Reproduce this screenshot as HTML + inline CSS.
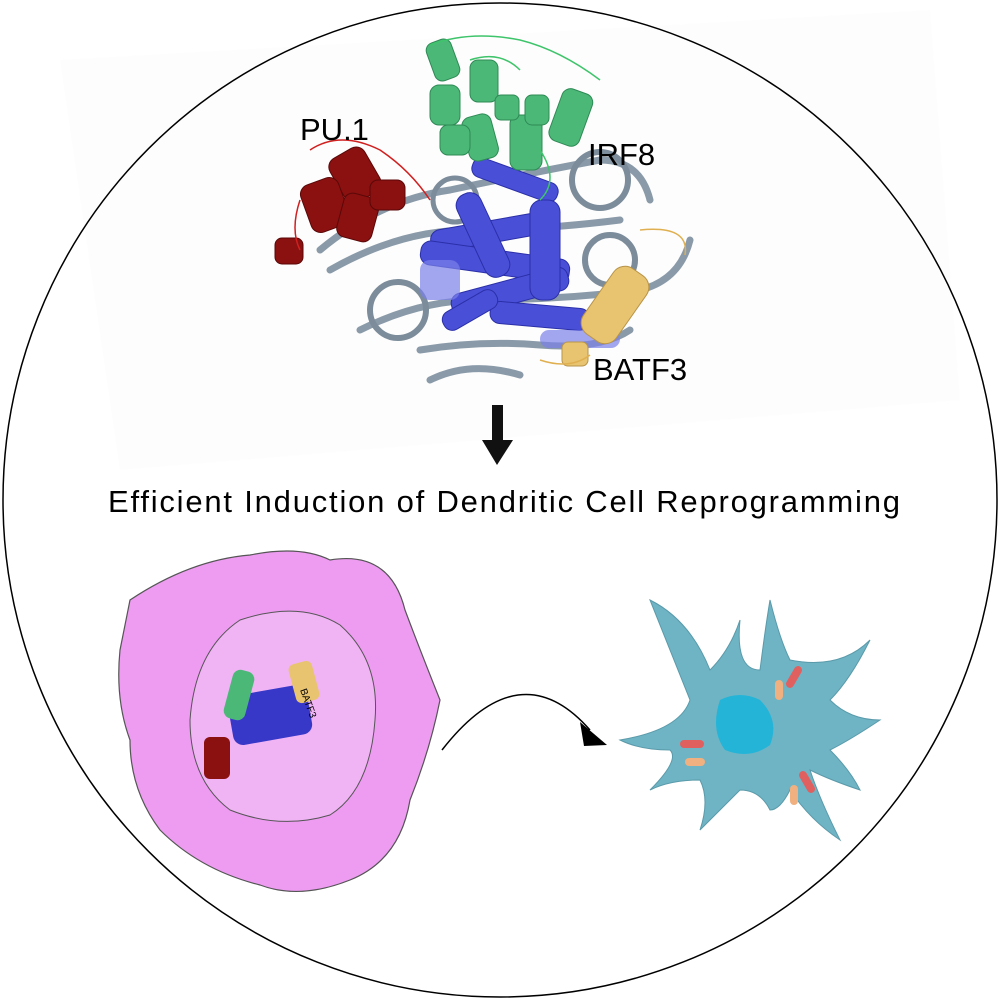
<!DOCTYPE html>
<html><head><style>
html,body{margin:0;padding:0;background:#fff;}
svg{display:block;}
text{font-family:"Liberation Sans",sans-serif;}
</style></head><body>
<svg width="1000" height="1000" viewBox="0 0 1000 1000">
<polygon points="60,60 930,10 960,400 120,470" fill="#fdfdfd"/>
<circle cx="500" cy="500" r="497" fill="none" stroke="#000" stroke-width="1.5"/>
<g fill="none" stroke="#8a9aa8" stroke-width="7" stroke-linecap="round">
<path d="M320,250 Q380,200 450,190 Q520,175 600,160 Q640,160 650,200"/>
<path d="M330,270 Q400,230 470,230 Q540,230 620,220"/>
<path d="M360,330 Q420,300 480,300 Q560,300 640,290 Q680,280 690,240"/>
<path d="M420,350 Q480,340 540,345 Q600,350 630,330"/>
<path d="M430,380 Q470,360 520,375"/>
</g>
<circle cx="398" cy="310" r="28" fill="none" stroke="#7c8c9a" stroke-width="6"/>
<circle cx="600" cy="180" r="28" fill="none" stroke="#7c8c9a" stroke-width="6"/>
<circle cx="610" cy="260" r="25" fill="none" stroke="#7c8c9a" stroke-width="6"/>
<circle cx="455" cy="200" r="22" fill="none" stroke="#7c8c9a" stroke-width="5"/>
<g fill="#4a4fd8" stroke="#2a2fa8" stroke-width="1">
<rect x="430" y="220" width="130" height="22" rx="10" transform="rotate(-10 495 231)"/>
<rect x="420" y="250" width="150" height="24" rx="10" transform="rotate(8 495 262)"/>
<rect x="450" y="280" width="120" height="24" rx="10" transform="rotate(-15 510 292)"/>
<rect x="470" y="170" width="90" height="20" rx="9" transform="rotate(20 515 180)"/>
<rect x="490" y="305" width="100" height="22" rx="10" transform="rotate(5 540 316)"/>
<rect x="440" y="300" width="60" height="20" rx="9" transform="rotate(-30 470 310)"/>
<rect x="530" y="200" width="30" height="100" rx="12"/>
<rect x="470" y="190" width="26" height="90" rx="12" transform="rotate(-25 483 235)"/>
</g>
<g fill="#7a80e8" opacity="0.7">
<rect x="540" y="330" width="80" height="18" rx="9"/>
<rect x="420" y="260" width="40" height="40" rx="10"/>
</g>
<g fill="#4cb878" stroke="#2e8a55" stroke-width="1">
<rect x="430" y="40" width="26" height="40" rx="8" transform="rotate(-20 443 60)"/>
<rect x="470" y="60" width="28" height="42" rx="8"/>
<rect x="430" y="85" width="30" height="40" rx="9"/>
<rect x="465" y="115" width="30" height="45" rx="9" transform="rotate(-15 480 137)"/>
<rect x="510" y="115" width="32" height="55" rx="9"/>
<rect x="525" y="95" width="24" height="30" rx="7"/>
<rect x="555" y="90" width="32" height="55" rx="9" transform="rotate(20 571 117)"/>
<rect x="495" y="95" width="24" height="25" rx="6"/>
<rect x="440" y="125" width="30" height="30" rx="8"/>
</g>
<path d="M430,45 Q470,30 520,40 Q560,50 600,80 M470,60 Q500,50 520,70 M540,150 Q560,180 540,200" stroke="#3ec46a" fill="none" stroke-width="1.5"/>
<g fill="#8b1010" stroke="#5a0808" stroke-width="1">
<rect x="335" y="150" width="40" height="50" rx="10" transform="rotate(-30 355 175)"/>
<rect x="305" y="180" width="40" height="50" rx="10" transform="rotate(-20 325 205)"/>
<rect x="340" y="195" width="36" height="45" rx="9" transform="rotate(15 358 217)"/>
<rect x="370" y="180" width="35" height="30" rx="8"/>
<rect x="275" y="238" width="28" height="26" rx="7"/>
</g>
<path d="M310,150 Q340,130 380,150 Q410,170 430,200 M300,200 Q290,230 300,250" stroke="#d02020" fill="none" stroke-width="1.5"/>
<g fill="#e8c470" stroke="#b8944a" stroke-width="1">
<rect x="595" y="265" width="40" height="80" rx="14" transform="rotate(35 615 305)"/>
<rect x="562" y="342" width="26" height="24" rx="6"/>
</g>
<path d="M640,230 Q690,225 685,255 M590,355 Q570,370 540,360" stroke="#e0b050" fill="none" stroke-width="1.5"/>
<text x="300" y="140" font-size="31">PU.1</text>
<text x="588" y="165" font-size="31">IRF8</text>
<text x="593" y="380" font-size="31">BATF3</text>
<rect x="492" y="405" width="11" height="38" fill="#111"/>
<polygon points="482,440 513,440 497,465" fill="#111"/>
<text x="108" y="512" font-size="31" textLength="792" lengthAdjust="spacing">Efficient Induction of Dendritic Cell Reprogramming</text>
<path d="M130,600 Q190,560 250,555 Q300,545 330,560 Q390,550 405,610 Q420,650 440,700 Q430,750 410,800 Q400,860 350,880 Q300,900 260,885 Q200,870 160,830 Q130,790 130,740 Q115,700 120,650 Z" fill="#ee9cf2" stroke="#555" stroke-width="1.2"/>
<path d="M240,620 Q300,600 340,625 Q380,660 375,720 Q370,790 330,815 Q280,830 230,810 Q190,780 190,720 Q195,650 240,620 Z" fill="#f0b4f4" stroke="#555" stroke-width="1"/>
<g fill="#3838c8"><rect x="230" y="690" width="80" height="50" rx="10" transform="rotate(-10 270 715)"/></g>
<rect x="228" y="670" width="22" height="50" rx="8" fill="#4cb878" transform="rotate(15 239 695)"/>
<rect x="292" y="662" width="24" height="40" rx="6" fill="#e8c470" transform="rotate(-15 304 682)"/>
<rect x="204" y="737" width="26" height="42" rx="6" fill="#8b1010"/>
<text x="300" y="690" font-size="10" transform="rotate(70 300 690)">BATF3</text>
<path d="M442,750 Q520,650 590,730" fill="none" stroke="#000" stroke-width="1.5"/>
<polygon points="580,722 607,745 584,746" fill="#000"/>
<path d="M620,740 Q680,730 690,700 Q670,650 650,600 Q690,620 710,670 Q730,650 740,620 Q735,670 760,670 Q765,630 770,600 Q780,640 790,660 Q840,670 870,640 Q850,680 830,700 Q850,720 880,720 Q850,740 830,750 Q850,770 860,790 Q830,780 810,770 Q820,800 840,840 Q810,820 790,790 Q780,810 770,810 Q760,790 740,790 Q720,810 700,830 Q710,800 700,780 Q670,780 650,790 Q680,760 670,750 Q640,750 620,740 Z" fill="#6eb4c4" stroke="#5a9aaa" stroke-width="1"/>
<path d="M720,700 Q740,690 760,700 Q780,720 770,745 Q750,760 725,750 Q710,730 720,700 Z" fill="#24b4d8"/>
<g fill="#e06060"><rect x="790" y="665" width="8" height="24" rx="4" transform="rotate(30 794 677)"/><rect x="803" y="770" width="8" height="24" rx="4" transform="rotate(-30 807 782)"/><rect x="680" y="740" width="24" height="8" rx="4"/></g>
<g fill="#f0b080"><rect x="775" y="680" width="8" height="20" rx="4"/><rect x="790" y="785" width="8" height="20" rx="4"/><rect x="685" y="758" width="20" height="8" rx="4"/></g>
</svg>
</body></html>
